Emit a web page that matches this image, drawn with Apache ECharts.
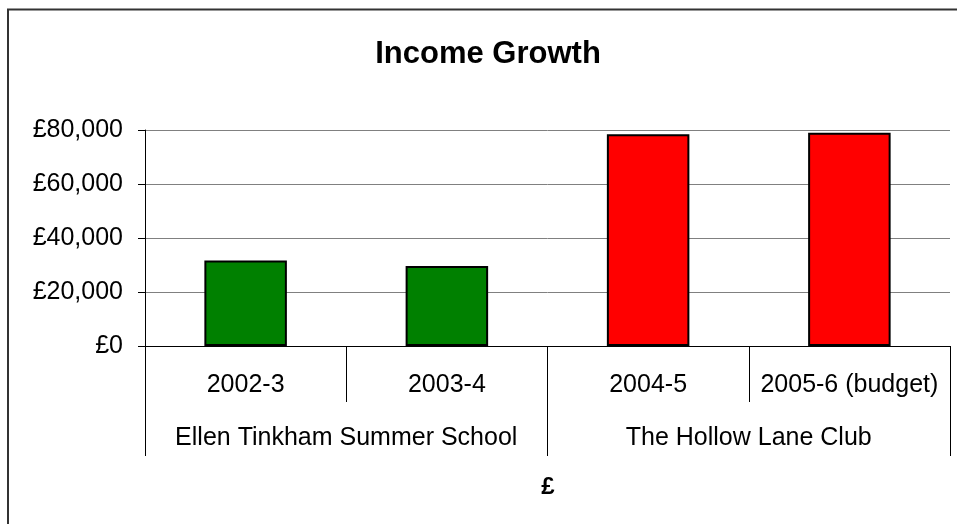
<!DOCTYPE html>
<html>
<head>
<meta charset="utf-8">
<script src="https://cdn.jsdelivr.net/npm/echarts@6/dist/echarts.min.js"></script>
<style>
html,body{margin:0;padding:0;background:#fff;}
#chart{width:957px;height:524px;}
</style>
</head>
<body>
<div id="chart"></div>
<script>
// ---- data ----
const years = ['2002-3', '2003-4', '2004-5', '2005-6 (budget)'];
const groups = ['Ellen Tinkham Summer School', 'The Hollow Lane Club'];
const yearGroup = [0, 0, 1, 1];
const income = [31700, 29600, 78400, 79000];
const yTicks = [0, 20000, 40000, 60000, 80000];

const groupColors = ['#008000', '#FF0000'];
const FONT = '"Liberation Sans", Arial, sans-serif';

const chart = echarts.init(document.getElementById('chart'));
const seriesData = income.map((v, i) => ({
  value: v,
  itemStyle: { color: groupColors[yearGroup[i]] }
}));

chart.setOption({
  animation: false,
  backgroundColor: '#fff',
  title: [{
    text: 'Income Growth',
    left: 483,
    top: 34,
    textAlign: 'center',
    textStyle: { fontFamily: FONT, fontSize: 31, fontWeight: 'bold', color: '#000' }
  }, {
    text: '£',
    left: 543,
    top: 470,
    textAlign: 'center',
    textStyle: { fontFamily: FONT, fontSize: 24, fontWeight: 'bold', color: '#000' }
  }],
  graphic: [{
    type: 'rect',
    shape: { x: 8, y: 9.5, width: 1200, height: 1200 },
    style: { fill: 'none', stroke: '#333', lineWidth: 2 },
    silent: true
  }],
  grid: { left: 145, right: 7, top: 130, bottom: 178, containLabel: false },
  xAxis: [{
    type: 'category',
    data: years,
    position: 'bottom',
    axisLine: { show: true, lineStyle: { color: '#000', width: 1 } },
    axisTick: { show: true, length: 56, alignWithLabel: false, lineStyle: { color: '#000', width: 1 } },
    axisLabel: { fontFamily: FONT, fontSize: 25, color: '#000', margin: 27, interval: 0 },
    splitLine: { show: false }
  }, {
    type: 'category',
    data: groups,
    position: 'bottom',
    axisLine: { show: false },
    axisTick: { show: true, length: 110, alignWithLabel: false, lineStyle: { color: '#000', width: 1 } },
    axisLabel: { fontFamily: FONT, fontSize: 25, color: '#000', margin: 80, interval: 0 },
    splitLine: { show: false }
  }],
  yAxis: {
    type: 'value',
    min: yTicks[0],
    max: yTicks[yTicks.length - 1],
    interval: yTicks[1] - yTicks[0],
    axisLine: { show: true, lineStyle: { color: '#000', width: 1 } },
    axisTick: { show: true, length: 7, lineStyle: { color: '#000' } },
    axisLabel: {
      fontFamily: FONT, fontSize: 25, color: '#000', margin: 22,
      formatter: v => '£' + v.toLocaleString('en-GB')
    },
    splitLine: { show: true, lineStyle: { color: '#808080', width: 1 } }
  },
  series: [{
    type: 'bar',
    xAxisIndex: 0,
    data: seriesData,
    barWidth: '41%',
    itemStyle: { borderColor: '#000', borderWidth: 2 }
  }]
});
</script>
</body>
</html>
